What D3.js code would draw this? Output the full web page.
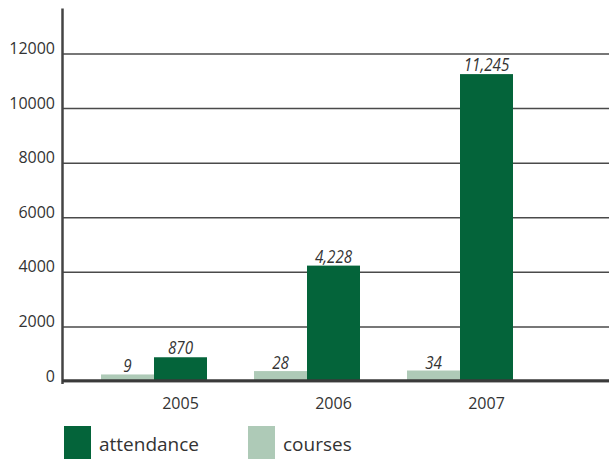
<!DOCTYPE html>
<html>
<head>
<meta charset="utf-8">
<script src="https://cdn.jsdelivr.net/npm/d3@7"></script>
<style>
  body { margin: 0; background: #fff; }
  svg { display: block; }
  .tick text { font-family: 'Open Sans', sans-serif; font-size: 16px; fill: #333; }
</style>
</head>
<body>
<svg id="chart"></svg>
<script>
const years = ['2005', '2006', '2007'];
const attendance = [870, 4228, 11245];
const courses = [9, 28, 34];
const yTicks = [0, 2000, 4000, 6000, 8000, 10000, 12000];
const seriesNames = ['attendance', 'courses'];

const W = 609, H = 459;
const colors = {attendance: '#04643a', courses: '#aecab7'};

const svg = d3.select('#chart')
.attr('width', W)
.attr('height', H);

const rows = years.map((yr, i) => ({year: yr, attendance: attendance[i], courses: courses[i]}));

const x0 = d3.scaleBand()
.domain(years)
.range([101, 513])
.paddingInner(47 / 153);

const x1 = d3.scaleBand()
.domain(['courses', 'attendance'])
.range([0, x0.bandwidth()]);

const y = d3.scaleLinear()
.domain([0, 12000])
.range([381, 53.5]);

// courses are tiny next to attendance, the original draws them on a log-like scale
const yc = d3.scaleLog()
.domain([1, 100])
.range([0, 13.7]);

// gridlines + y labels
const yAxis = svg.append('g')
.attr('transform', 'translate(62,0)')
.call(d3.axisLeft(y).tickValues(yTicks).tickSize(-(W - 62)).tickPadding(7).tickFormat(d3.format('d')));

yAxis.select('.domain').remove();
yAxis.selectAll('.tick line')
.attr('stroke', '#4a4a4a')
.attr('stroke-width', 1.5);
yAxis.selectAll('.tick text').attr('dy', '0');

// vertical axis line
svg.append('line')
.attr('x1', 62.5).attr('x2', 62.5)
.attr('y1', y(13650)).attr('y2', 384)
.attr('stroke', '#444')
.attr('stroke-width', 2.5);

const groups = svg.selectAll('.grp')
.data(rows)
.enter()
.append('g')
.attr('class', 'grp')
.attr('transform', d => `translate(${x0(d.year)},0)`);

groups.append('rect')
.attr('x', x1('courses'))
.attr('width', x1.bandwidth())
.attr('y', d => y(0) - yc(d.courses))
.attr('height', d => yc(d.courses))
.attr('fill', colors.courses);

groups.append('rect')
.attr('x', x1('attendance'))
.attr('width', x1.bandwidth())
.attr('y', d => y(d.attendance))
.attr('height', d => y(0) - y(d.attendance))
.attr('fill', colors.attendance);

// baseline
svg.append('line')
.attr('x1', 62).attr('x2', W)
.attr('y1', 380.7).attr('y2', 380.7)
.attr('stroke', '#3a3a3a')
.attr('stroke-width', 3);

// value labels - condensed italic, squeezed with scaleX since no narrow font is around
function valueLabel(sel, key, yPos) {
  sel.append('text')
  .attr('transform', d => `translate(${x1(key) + x1.bandwidth() / 2},${yPos(d)}) scale(0.8,1)`)
  .attr('text-anchor', 'middle')
  .style('font-family', "'Open Sans', sans-serif")
  .style('font-style', 'italic')
  .style('font-size', '19px')
  .style('fill', '#333')
  .text(d => d3.format(',')(d[key]));
}
valueLabel(groups, 'courses', d => y(0) - yc(d.courses) - 2);
valueLabel(groups, 'attendance', d => y(d.attendance) - 3);

// year labels, centred under the attendance bar
groups.append('text')
.attr('x', x1('attendance') + x1.bandwidth() / 2)
.attr('y', 409)
.attr('text-anchor', 'middle')
.style('font-family', "'Open Sans', sans-serif")
.style('font-size', '16px')
.style('fill', '#333')
.text(d => d.year);

// legend
const legX = [64, 248];
seriesNames.forEach((name, i) => {
  svg.append('rect')
  .attr('x', legX[i]).attr('y', 426)
  .attr('width', 27).attr('height', 35)
  .attr('fill', colors[name]);
  svg.append('text')
  .attr('x', legX[i] + 35).attr('y', 451)
  .style('font-family', "'Open Sans', sans-serif")
  .style('font-size', '19px')
  .style('fill', '#333')
  .text(name);
});
</script>
</body>
</html>
